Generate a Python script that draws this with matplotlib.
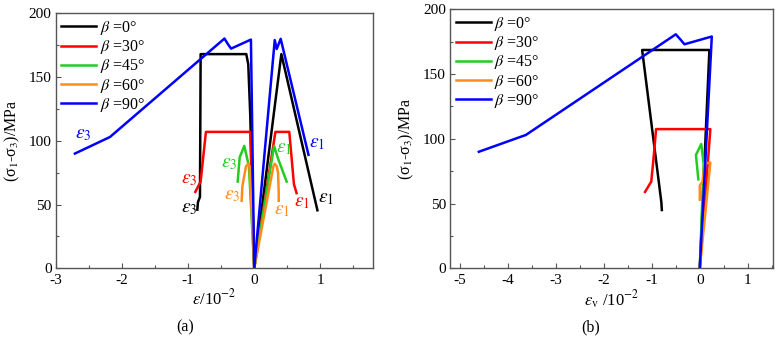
import matplotlib
matplotlib.use("Agg")
import matplotlib.pyplot as plt
from matplotlib.ticker import MultipleLocator

plt.rcParams['font.family'] = 'serif'
plt.rcParams['font.serif'] = ['Liberation Serif', 'DejaVu Serif']
plt.rcParams['mathtext.fontset'] = 'stix'
plt.rcParams['axes.unicode_minus'] = False

# ============== data (a): strain vs deviatoric stress ==============
labels = ['0°', '30°', '45°', '60°', '90°']
colors = ['black', '#ff0000', '#22cc22', '#ff8c1a', '#0000ff']

# eps1 branches (x in 1e-2, y in MPa)
e1_x = [
    [0, 0.41, 0.955],
    [0, 0.32, 0.53, 0.60, 0.64],
    [0, 0.30, 0.36, 0.49],
    [0, 0.29, 0.31, 0.34, 0.36, 0.37, 0.37],
    [0, 0.31, 0.34, 0.40, 0.82],
]
e1_y = [
    [0, 168, 45.5],
    [0, 107, 107, 66, 59],
    [0, 96, 86, 68],
    [0, 80, 82, 80, 75, 60, 53],
    [0, 179, 172, 180, 89],
]
# eps3 branches
e3_x = [
    [0, -0.03, -0.06, -0.09, -0.12, -0.81, -0.82, -0.85, -0.86],
    [0, -0.03, -0.06, -0.73, -0.81, -0.89],
    [0, -0.08, -0.15, -0.22, -0.25],
    [0, -0.07, -0.09, -0.125, -0.18, -0.19],
    [0, -0.05, -0.35, -0.40, -0.45, -2.18, -2.71],
]
e3_y = [
    [0, 60, 120, 160, 168, 168, 56, 52, 46],
    [0, 50, 107, 107, 68, 60],
    [0, 80, 96, 87, 68],
    [0, 80, 82, 80, 64, 53],
    [0, 179.4, 172.3, 176, 180.2, 103, 90],
]

# ============== data (b): volumetric strain ==============
ev_x = [
    [0, 0.20, -1.20, -0.80, -0.79],
    [0, 0.22, -0.91, -0.96, -1.01, -1.14],
    [0, 0.08, 0.03, -0.08, -0.03],
    [0, 0.22, 0.10, 0.06, 0.0, 0.0],
    [0, 0.25, -0.32, -0.41, -0.50, -3.62, -4.60],
]
ev_y = [
    [0, 168.6, 168.6, 51, 45],
    [0, 107.5, 107.5, 86, 67, 59],
    [0, 81, 96, 87.5, 68.7],
    [0, 81.6, 81, 67, 64, 53],
    [0, 179, 173, 177, 180.7, 103, 90],
]

# annotation positions for eps labels in (a)
ann_e1 = [(1.08, 55), (0.72, 52), (0.45, 94), (0.42, 45), (0.95, 98)]
ann_e3 = [(-0.98, 47), (-0.98, 70), (-0.38, 82), (-0.33, 57), (-2.58, 105)]

LW = 1.8
SPINE = '#555555'


def style_axes(ax, xlim, xmajor):
    ax.set_xlim(*xlim)
    ax.set_ylim(0, 200)
    ax.xaxis.set_major_locator(MultipleLocator(xmajor))
    ax.xaxis.set_minor_locator(MultipleLocator(xmajor / 2))
    ax.yaxis.set_major_locator(MultipleLocator(50))
    ax.yaxis.set_minor_locator(MultipleLocator(25))
    ax.tick_params(which='both', direction='in', color=SPINE, labelsize=11)
    ax.tick_params(axis='x', pad=4)
    ax.tick_params(axis='y', pad=3)
    ax.tick_params(which='major', length=3.5, width=0.8)
    ax.tick_params(which='minor', length=2, width=0.8)
    for s in ax.spines.values():
        s.set_color(SPINE)
        s.set_linewidth(1.0)
    ax.set_ylabel('(σ$_1$-σ$_3$)/MPa', fontsize=11.5, labelpad=5)
    ax.legend(loc='upper left', frameon=False, fontsize=11.5, handlelength=2.2,
              handletextpad=0.2, labelspacing=0.08, borderaxespad=0.15,
              borderpad=0.2)


fig = plt.figure(figsize=(7.76, 3.44), dpi=100)
ax1 = fig.add_axes([0.0718, 0.2200, 0.4093, 0.7413])
ax2 = fig.add_axes([0.5799, 0.2200, 0.4166, 0.7529])

for i in range(len(labels)):
    ax1.plot(e3_x[i], e3_y[i], color=colors[i], lw=LW, label=r'$\beta$ =' + labels[i])
    ax1.plot(e1_x[i], e1_y[i], color=colors[i], lw=LW)
    ax1.text(ann_e1[i][0], ann_e1[i][1], r'$\varepsilon_1$', color=colors[i],
             fontsize=14, ha='center', va='center')
    ax1.text(ann_e3[i][0], ann_e3[i][1], r'$\varepsilon_3$', color=colors[i],
             fontsize=14, ha='center', va='center')
    ax2.plot(ev_x[i], ev_y[i], color=colors[i], lw=LW, label=r'$\beta$ =' + labels[i])

style_axes(ax1, (-3, 1.8), 1)
style_axes(ax2, (-5.2, 1.53), 1)

ax1.set_xlabel(r'$\varepsilon$/10$^{-2}$', fontsize=12, labelpad=1)
ax2.set_xlabel(r'$\varepsilon_{\rm v}$ /10$^{-2}$', fontsize=12, labelpad=1)

fig.text(185 / 776, 1 - 327 / 344, '(a)', fontsize=11.5, ha='center', va='center')
fig.text(591 / 776, 1 - 327 / 344, '(b)', fontsize=11.5, ha='center', va='center')

fig.savefig('out.png', dpi=100)
